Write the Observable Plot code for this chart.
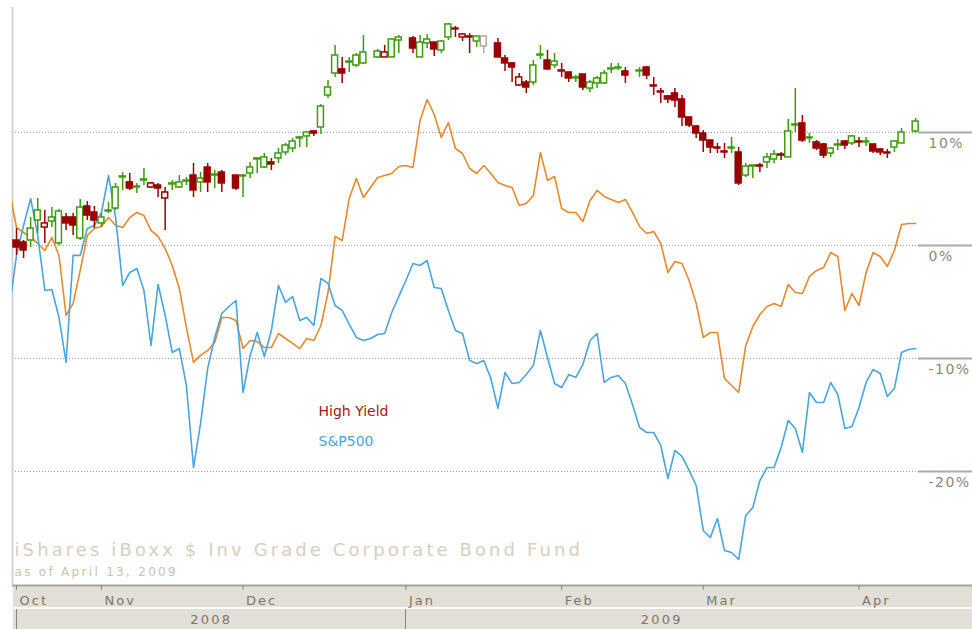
<!DOCTYPE html>
<html>
<head>
<meta charset="utf-8">
<script src="https://cdn.jsdelivr.net/npm/d3@7"></script>
<script src="https://cdn.jsdelivr.net/npm/@observablehq/plot@0.6"></script>
<style>
  html, body { margin: 0; padding: 0; background: #ffffff; }
  #chart { width: 972px; height: 629px; }
</style>
</head>
<body>
<div id="chart"></div>
<script>
// ---- data (weekday index; first entry is day -1, trading days from Oct 16 2008 to Apr 13 2009) ----
const firstDay = -1;
const open = [null,
 0.44,0.27,0.44,2.21,1.59,2.12,0.18,2.48,2.48,0.62,
 3.45,2.92,1.95,3.01,3.27,6.02,5.58,5.13,5.75,5.13,
 5.31,4.16,5.40,5.13,5.66,6.19,5.58,6.90,6.19,6.46,
 null,6.19,6.11,6.37,7.61,6.90,7.35,7.70,8.23,8.58,
 9.47,9.65,10.09,10.44,13.27,15.22,15.58,16.19,15.93,16.11,
 null,16.64,16.64,16.64,18.14,null,18.32,16.64,17.88,17.96,
 17.26,18.41,19.20,18.41,18.50,18.05,17.61,null,17.88,16.55,
 16.11,14.16,14.42,14.42,16.81,16.37,15.93,15.49,15.31,14.78,
 15.13,13.89,14.34,14.34,15.58,15.66,15.40,null,15.40,15.75,
 14.16,13.63,13.19,13.45,12.92,11.33,10.53,9.91,9.29,8.67,
 8.32,8.58,8.23,6.19,6.99,7.08,7.35,7.61,8.05,7.79,
 10.62,10.80,9.47,9.12,8.94,8.14,8.85,9.20,9.03,9.20,
 9.12,8.94,8.50,8.23,8.67,9.03,null,10.09];
const high = [null,
 1.50,0.44,2.48,4.16,3.10,3.36,3.19,2.83,2.83,4.07,
 3.89,3.45,2.83,3.81,5.49,6.46,6.37,5.49,6.81,5.58,
 5.49,5.13,5.75,6.19,6.02,7.26,6.46,7.26,6.64,6.64,
 null,6.19,6.28,7.35,7.70,8.14,7.70,8.58,9.03,9.47,
 9.65,10.09,10.18,12.48,14.60,17.70,16.64,16.64,16.99,18.58,
 null,17.35,17.70,18.32,18.58,null,18.50,18.58,18.67,17.96,
 18.14,19.65,19.38,18.76,18.76,18.50,18.50,null,18.32,16.81,
 16.19,15.22,14.60,16.37,17.70,17.26,16.99,16.11,15.31,15.04,
 15.13,14.60,14.96,15.49,16.11,16.11,15.75,null,15.75,15.84,
 14.87,13.89,13.27,13.89,13.27,11.33,10.62,10.18,9.29,9.03,
 9.03,9.56,8.67,7.26,7.08,7.26,8.14,8.41,8.23,11.15,
 13.89,11.50,9.91,9.29,9.03,8.67,9.38,9.29,9.73,9.56,
 9.56,8.94,8.50,8.50,9.29,10.35,null,11.24];
const low = [null,
 -0.88,-1.15,-0.18,1.06,0.18,1.59,0.00,1.33,0.88,0.44,
 2.21,1.50,1.59,2.83,3.10,4.87,4.87,4.60,5.31,5.04,
 4.25,1.33,4.87,5.04,5.31,4.25,4.69,4.69,5.04,4.69,
 null,4.87,4.25,5.93,6.37,6.81,6.64,7.26,7.96,8.23,
 8.67,8.67,9.65,9.82,13.01,14.87,14.34,15.31,15.75,16.02,
 null,16.55,16.64,16.64,16.99,null,16.99,16.64,17.43,16.73,
 16.99,18.14,18.41,18.05,16.99,17.52,16.99,null,16.64,15.40,
 14.42,14.07,13.45,14.16,16.46,15.49,15.66,14.87,14.42,14.42,
 13.72,13.54,13.89,14.25,15.22,15.49,14.34,null,14.87,14.69,
 13.27,12.57,12.57,12.21,10.53,10.44,9.47,8.23,8.14,8.14,
 7.70,8.14,5.31,6.02,5.93,6.46,6.81,7.26,7.52,7.79,
 10.00,9.12,9.03,8.41,7.70,7.79,8.41,8.50,8.85,8.67,
 8.76,8.14,7.96,7.70,8.23,9.03,null,9.91];
const close = [null,
 -0.18,-0.44,1.50,3.10,1.95,2.48,3.01,1.95,1.77,3.36,
 2.65,2.21,2.48,3.10,5.13,6.11,5.04,5.22,5.84,5.49,
 5.04,4.69,5.49,5.58,5.75,4.87,5.93,5.58,6.28,5.49,
 null,5.04,6.19,6.90,7.70,7.79,7.17,8.14,8.85,9.20,
 9.56,10.00,9.91,12.30,13.98,16.81,15.22,16.28,16.81,17.08,
 null,17.17,17.08,18.23,18.41,null,17.43,17.96,18.23,17.35,
 18.05,19.56,19.12,18.67,18.41,18.50,18.50,null,16.64,16.11,
 15.75,14.87,13.98,15.93,16.90,15.58,16.28,15.40,14.78,14.87,
 13.98,14.42,14.78,15.22,15.66,15.75,15.04,null,15.49,15.04,
 14.07,13.54,12.92,12.83,11.33,10.62,9.91,9.29,8.67,8.58,
 8.23,8.67,5.49,6.99,7.08,6.99,7.79,8.05,7.96,10.09,
 10.71,9.29,9.56,8.58,7.96,8.58,8.94,8.85,9.65,9.12,
 9.20,8.32,8.23,8.14,9.20,10.00,null,10.97];
const highYield = [4.87,
 1.59,1.15,0.71,0.18,-0.44,0.71,-0.88,-6.19,-5.13,-2.21,
 0.88,1.50,1.68,2.48,1.77,1.59,2.48,2.92,2.65,1.33,
 0.80,-0.27,-1.77,-3.81,-7.26,-10.35,-9.73,-9.29,-8.58,-6.37,
 -6.37,-6.64,-9.12,-8.41,-8.50,-9.03,-9.03,-7.79,-8.23,-8.67,
 -9.12,-8.23,-8.41,-7.08,-4.16,0.80,0.44,4.16,5.93,4.25,
 5.13,6.02,6.19,6.37,6.99,7.08,6.90,11.06,12.92,11.59,
 9.56,10.88,8.58,8.14,6.81,6.37,7.08,6.37,5.58,5.31,
 5.13,3.54,3.72,4.42,8.23,5.75,6.11,3.27,2.92,2.92,
 2.12,3.98,4.87,4.34,4.07,3.81,4.07,2.92,1.68,1.06,
 1.24,0.18,-2.39,-1.42,-1.59,-3.10,-5.13,-8.14,-7.70,-7.70,
 -11.77,-12.39,-13.01,-8.85,-7.17,-6.11,-5.40,-5.13,-5.40,-3.45,
 -4.16,-4.25,-2.74,-2.21,-1.95,-0.62,-0.97,-5.75,-4.25,-5.31,
 -2.39,-0.62,-0.97,-1.86,-0.44,1.86,1.95,1.95];
const sp500 = [-5.5,
 -0.88,1.77,4.16,0.88,-3.98,-3.89,-6.37,-10.35,-0.88,-0.88,
 1.50,1.77,2.92,6.19,2.48,-3.54,-2.39,-2.04,-3.98,-8.85,
 -3.45,-6.19,-9.47,-9.12,-12.39,-19.65,-15.75,-10.88,-8.14,-6.02,
 -5.40,-4.87,-13.01,-9.73,-7.70,-9.82,-7.52,-3.54,-5.04,-4.51,
 -6.64,-6.37,-7.08,-2.92,-3.36,-5.31,-5.75,-6.99,-8.14,-8.41,
 -8.23,-7.88,-7.79,-5.93,-4.51,-3.10,-1.59,-1.77,-1.33,-3.72,
 -3.81,-5.75,-7.52,-7.79,-10.18,-10.44,-10.18,-11.77,-14.42,-11.24,
 -12.21,-12.12,-11.42,-10.62,-7.52,-9.91,-12.21,-12.57,-11.42,-11.68,
 -10.53,-8.41,-7.79,-12.12,-11.68,-11.50,-12.21,-14.07,-16.11,-16.55,
 -16.55,-17.70,-20.62,-18.14,-18.67,-19.91,-21.24,-25.22,-25.84,-24.16,
 -26.99,-27.17,-27.79,-23.89,-23.19,-20.80,-19.65,-19.65,-17.88,-15.49,
 -16.19,-18.32,-13.01,-13.89,-13.89,-12.12,-13.19,-16.19,-16.02,-14.34,
 -12.12,-10.97,-11.33,-13.36,-12.65,-9.47,-9.20,-9.12];

const yTicks = [10, 0, -10, -20];
const monthLabels = ["Oct", "Nov", "Dec", "Jan", "Feb", "Mar", "Apr"];
const monthDays = [0, 12, 32, 55, 77, 97, 119];
const yearLabels = ["2008", "2009"];
const yearStartDays = [0, 55];
const seriesNames = ["High Yield", "S&P500"];
const titleText = "iShares iBoxx $ Inv Grade Corporate Bond Fund";
const subtitleText = "as of April 13, 2009";

// ---- derived tables ----
const xDomain = [-0.565, 127.26];
const yDomain = [-30.09, 21.06];
const GREEN = "#3f9a0e", RED = "#990000", GRAY = "#aca79b";
const ORANGE = "#e58a2e", BLUE = "#4aa6da";

const rows = open.map((o, k) => ({
  day: k + firstDay, open: o, high: high[k], low: low[k], close: close[k],
  hy: highYield[k], sp: sp500[k]
}));
const candles = rows.filter(d => d.open != null);
let prevClose = null;
for (const d of candles) {
  const ref = prevClose == null ? d.open : prevClose;
  d.color = d.close > ref ? GREEN : d.close < ref ? RED : GRAY;
  d.bodyFill = d.close < d.open ? d.color : "#ffffff";
  prevClose = d.close;
}
const months = monthLabels.map((m, i) => ({label: m, day: monthDays[i]}));
const years = yearLabels.map((y, i) => ({
  label: y, start: yearStartDays[i],
  end: i + 1 < yearStartDays.length ? yearStartDays[i + 1] : xDomain[1]
}));

const FONT = "'DejaVu Sans', Verdana, sans-serif";
const AXIS_TEXT = "#7d7768";

const plot = Plot.plot({
  width: 972,
  height: 629,
  marginTop: 7,
  marginBottom: 44,
  marginLeft: 12,
  marginRight: 55,
  style: {fontFamily: FONT, background: "transparent"},
  x: {type: "linear", domain: xDomain},
  y: {type: "linear", domain: yDomain},
  color: {type: "identity"},
  marks: [
    Plot.ruleY(yTicks, {stroke: "#9d9d9d", strokeWidth: 1, strokeDasharray: "1,2"}),
    Plot.ruleX([xDomain[0]], {stroke: "#d3d3d3", strokeWidth: 2}),
    Plot.axisY(yTicks, {anchor: "right", tickSize: 55, stroke: "#aaaaaa", strokeWidth: 2, fill: "none", label: null}),
    Plot.text(yTicks, {y: d => d, text: d => `${d}%`, frameAnchor: "right", textAnchor: "start", lineAnchor: "middle",
      dx: 11, dy: 11.5, fontSize: 14, fill: "#8c887d", ariaDescription: "ylabels"}),
    Plot.line(rows, {x: "day", y: "hy", stroke: ORANGE, strokeWidth: 1.6, clip: true}),
    Plot.line(rows, {x: "day", y: "sp", stroke: BLUE, strokeWidth: 1.6, clip: true}),
    Plot.ruleX(candles, {x: "day", y1: "low", y2: "high", stroke: "color", strokeWidth: 1.5}),
    Plot.rect(candles, {x1: d => d.day - 0.42, x2: d => d.day + 0.42, y1: "open", y2: "close",
      fill: "bodyFill", stroke: "color", strokeWidth: 1.5}),
    Plot.axisX(months.map(m => m.day), {anchor: "bottom", tickSize: 5, stroke: "#8d8777", strokeWidth: 1, fill: "none", label: null}),
    Plot.text(months, {x: "day", text: "label", frameAnchor: "bottom", textAnchor: "start", lineAnchor: "middle",
      dx: 3, dy: 15, fontSize: 13, fill: AXIS_TEXT, ariaDescription: "months"}),
    Plot.text(years, {x: d => (d.start + d.end) / 2, text: "label", frameAnchor: "bottom", textAnchor: "middle", lineAnchor: "middle",
      dy: 34, fontSize: 13, fill: AXIS_TEXT, ariaDescription: "years"}),
    Plot.text([titleText], {text: d => d, frameAnchor: "bottom-left", textAnchor: "start", lineAnchor: "middle",
      dx: 2, dy: -35, fontSize: 18, fill: "#d5cfc1", ariaDescription: "title"}),
    Plot.text([subtitleText], {text: d => d, frameAnchor: "bottom-left", textAnchor: "start", lineAnchor: "middle",
      dx: 2, dy: -13, fontSize: 12, fill: "#c9c2b1", ariaDescription: "subtitle"}),
    Plot.text([seriesNames[0]], {text: d => d, frameAnchor: "top-left", textAnchor: "start", lineAnchor: "middle",
      dx: 306, dy: 404.5, fontSize: 14, fill: "#a31818"}),
    Plot.text([seriesNames[1]], {text: d => d, frameAnchor: "top-left", textAnchor: "start", lineAnchor: "middle",
      dx: 306, dy: 434.5, fontSize: 14, fill: BLUE})
  ]
});

// ---- decorations: axis bands behind the month / year labels ----
const svg = d3.select(plot);
const xs = plot.scale("x");
const W = 972, H = 629, bottom = H - 44;
const bands = svg.insert("g", ":first-child");
bands.append("rect").attr("x", 13).attr("y", bottom).attr("width", W - 13).attr("height", 22).attr("fill", "#e1dfd8");
bands.append("rect").attr("x", 13).attr("y", bottom + 24).attr("width", W - 13).attr("height", H - bottom - 24).attr("fill", "#e1dfd8");
bands.append("line").attr("x1", 12).attr("x2", W).attr("y1", bottom + 0.5).attr("y2", bottom + 0.5)
  .attr("stroke", "#aaa599").attr("stroke-width", 2);
for (const y of years) {
  const px = Math.round(xs.apply(y.start)) + 0.5;
  bands.append("line").attr("x1", px).attr("x2", px).attr("y1", bottom + 24).attr("y2", H)
    .attr("stroke", "#8a8474").attr("stroke-width", 1);
}
svg.selectAll('g[aria-description="title"] text').style("letter-spacing", "3.1px");
svg.selectAll('g[aria-description="subtitle"] text').style("letter-spacing", "2.3px");
svg.selectAll('g[aria-description="months"] text').style("letter-spacing", "2px");
svg.selectAll('g[aria-description="years"] text').style("letter-spacing", "2.2px");
svg.selectAll('g[aria-description="ylabels"] text').style("letter-spacing", "1.5px");

document.getElementById("chart").appendChild(plot);
</script>
</body>
</html>
